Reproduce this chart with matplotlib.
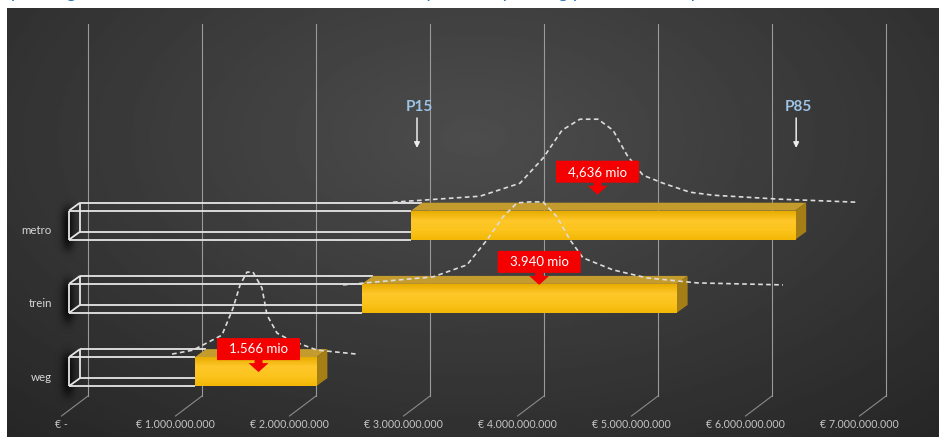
import numpy as np
import matplotlib.pyplot as plt
from matplotlib.patches import Polygon
from matplotlib.colors import LinearSegmentedColormap

plt.rcParams['font.family'] = ['Lato', 'DejaVu Sans']

# --- data (mio euro) ---
categories = ["metro", "trein", "weg"]
p15 = [3000, 2570, 1105]
p85 = [6370, 5330, 2170]
median = [4636, 3940, 1566]
median_text = ["4,636 mio", "3.940 mio", "1.566 mio"]
ticks = [0, 1000, 2000, 3000, 4000, 5000, 6000, 7000]
tick_text = ["€ -", "€ 1.000.000.000", "€ 2.000.000.000", "€ 3.000.000.000",
             "€ 4.000.000.000", "€ 5.000.000.000", "€ 6.000.000.000", "€ 7.000.000.000"]

# spread curves: cost (mio) and curve height
metro_cost = [2842, 3605, 3956, 4158, 4325, 4482, 4640, 4772, 4895, 5035, 5211, 5447, 5649, 6237, 6912]
metro_dens = [0, 6, 19, 44, 72, 83, 83, 72, 47, 27, 19, 10, 7, 3, 0]
trein_cost = [2404, 3193, 3491, 3667, 3807, 3930, 4044, 4158, 4281, 4395, 4509, 4772, 5070, 5509, 6263]
trein_dens = [0, 8, 20, 45, 68, 82, 83, 83, 68, 45, 27, 15, 7, 2, 0]
weg_cost = [904, 1088, 1342, 1439, 1500, 1561, 1614, 1693, 1737, 1825, 1939, 2175, 2526]
weg_dens = [1, 5, 20, 47, 70, 83, 83, 67, 40, 22, 15, 5, 1]

title = "Spreiding en verwachte waarde van de kosten - interpretatie spreiding per modaliteit per scenario"

# --- layout (pixels) ---
W, H = 939, 437
X0, SCALE = 69, 0.114          # pixel of € 0 on bar front, pixels per mio


def mio(px):
    return (px - X0) / SCALE


def dx(p):
    return p / SCALE


DEP_X, DEP_Y = 11, 8           # 3D depth of the bars
BAR_H = 29
ROW0, ROW_STEP = 210.7, 73.2
curve_base = [-8.5, 1, -2]
callout_lift = [50, 33, 19]
callout_dx = [0, 21, 11]

fig = plt.figure(figsize=(W / 100, H / 100), dpi=100)
fig.patch.set_facecolor('white')
ax = fig.add_axes([0, 0, 1, 1])
ax.axis('off')

# background panel with soft radial gradient
yy, xx = np.mgrid[0:1:200j, 0:1:400j]
d = np.sqrt(((xx - 0.5) / 0.8) ** 2 + ((yy - 0.3) / 1.0) ** 2)
bg = np.clip(0.30 - 0.16 * d, 0.13, 1)
ax.imshow(bg, cmap='gray', vmin=0, vmax=1, extent=(mio(7), mio(W), H, 8),
          aspect='auto', zorder=0, interpolation='bilinear')

# title, cut off at the top edge
ax.text(mio(2), -2, title, fontsize=14, style='italic', color='#2e74b5',
        ha='left', va='baseline', zorder=6)

# gridlines on back wall + floor
for t, lab in zip(ticks, tick_text):
    xb = t + dx(19)
    ax.plot([xb, xb], [24, 396], color='#9a9a9a', lw=0.8, zorder=1)
    ax.plot([xb, t + dx(-7.5)], [396, 416], color='#8a8a8a', lw=0.8, zorder=1)
    ax.text(t + dx(-8), 425, lab, fontsize=7.7, color='#c4c4c4',
            ha='center', va='center', zorder=6)

# shadows at the left end of the bars
sx, sy = np.meshgrid(np.linspace(-1, 1, 60), np.linspace(-1, 1, 90))
shadow = np.zeros((90, 60, 4))
shadow[..., 3] = 0.75 * np.exp(-(sx / 0.4) ** 2) * np.exp(-(sy / 0.65) ** 4)

gold = LinearSegmentedColormap.from_list(
    'gold', ['#e9ad00', '#ffc72a', '#fcc41c', '#f3b705'])
grad = np.linspace(0, 1, 50).reshape(-1, 1)

curves = [(metro_cost, metro_dens), (trein_cost, trein_dens), (weg_cost, weg_dens)]

for i, cat in enumerate(categories):
    yt = ROW0 + ROW_STEP * i
    yb = yt + BAR_H
    ax.imshow(shadow, extent=(mio(52), mio(84), yb + 22, yt - 16),
              aspect='auto', zorder=1.5)

    # wireframe part, 0 .. P15
    x0, x1 = 0, p15[i]
    wire = dict(color='#e6e6e6', lw=1.3, zorder=3, solid_capstyle='butt')
    ax.plot([x0, x1], [yt, yt], **wire)
    ax.plot([x0, x1], [yb, yb], **wire)
    ax.plot([x0 + dx(DEP_X), x1 + dx(DEP_X)], [yt - DEP_Y, yt - DEP_Y], **wire)
    ax.plot([x0 + dx(DEP_X), x1 + dx(DEP_X)], [yb - DEP_Y, yb - DEP_Y], **wire)
    ax.plot([x0, x0], [yt, yb], **wire)
    ax.plot([x0 + dx(DEP_X)] * 2, [yt - DEP_Y, yb - DEP_Y], **wire)
    ax.plot([x0, x0 + dx(DEP_X)], [yt, yt - DEP_Y], **wire)
    ax.plot([x0, x0 + dx(DEP_X)], [yb, yb - DEP_Y], **wire)

    # yellow part, P15 .. P85
    a, b = p15[i], p85[i]
    ax.imshow(grad, cmap=gold, extent=(a, b, yb, yt), aspect='auto', zorder=3.2)
    ax.add_patch(Polygon([(a, yt), (b, yt), (b + dx(DEP_X), yt - DEP_Y),
                          (a + dx(DEP_X), yt - DEP_Y)],
                         closed=True, fc='#c49b2d', ec='none', zorder=3.1))
    ax.add_patch(Polygon([(b, yt), (b + dx(DEP_X), yt - DEP_Y),
                          (b + dx(DEP_X), yb - DEP_Y), (b, yb)],
                         closed=True, fc='#a57e16', ec='none', zorder=3.1))

    # category label
    ax.text(mio(52), yt + 20, cat, fontsize=8.3, color='#d6d6d6',
            ha='right', va='center', zorder=6)

    # spread curve
    cx, cd = curves[i]
    base = yt + curve_base[i]
    ax.plot(cx, [base - v for v in cd], color='#dcdcdc', lw=1.2,
            ls=(0, (2.8, 2)), zorder=4)

    # median callout
    c = median[i] + dx(callout_dx[i])
    top = yt - callout_lift[i]
    bot = top + 22
    w2, sw, hw = dx(41.5), dx(4), dx(10)
    pts = [(c - w2, top), (c + w2, top), (c + w2, bot), (c + sw, bot),
           (c + sw, bot + 3), (c + hw, bot + 3), (c, bot + 12),
           (c - hw, bot + 3), (c - sw, bot + 3), (c - sw, bot), (c - w2, bot)]
    ax.add_patch(Polygon(pts, closed=True, fc='#f50000', ec='none', zorder=5))
    ax.text(c, top + 11, median_text[i], fontsize=9.5, color='white',
            ha='center', va='center', zorder=6)

# P15 / P85 markers for metro
for val, lab in [(p15[0] + dx(6), "P15"), (p85[0] + dx(1), "P85")]:
    ax.text(val + dx(2), 107, lab, fontsize=11, fontweight='bold',
            color='#9dc3e6', ha='center', va='center', zorder=6)
    ax.annotate('', xy=(val, 148), xytext=(val, 118),
                arrowprops=dict(arrowstyle='-|>', color='#ececec', lw=1.1,
                                mutation_scale=8, shrinkA=0, shrinkB=0),
                zorder=6)

ax.set_xlim(mio(0), mio(W))
ax.set_ylim(H, 0)

fig.savefig('out.png', dpi=100)
